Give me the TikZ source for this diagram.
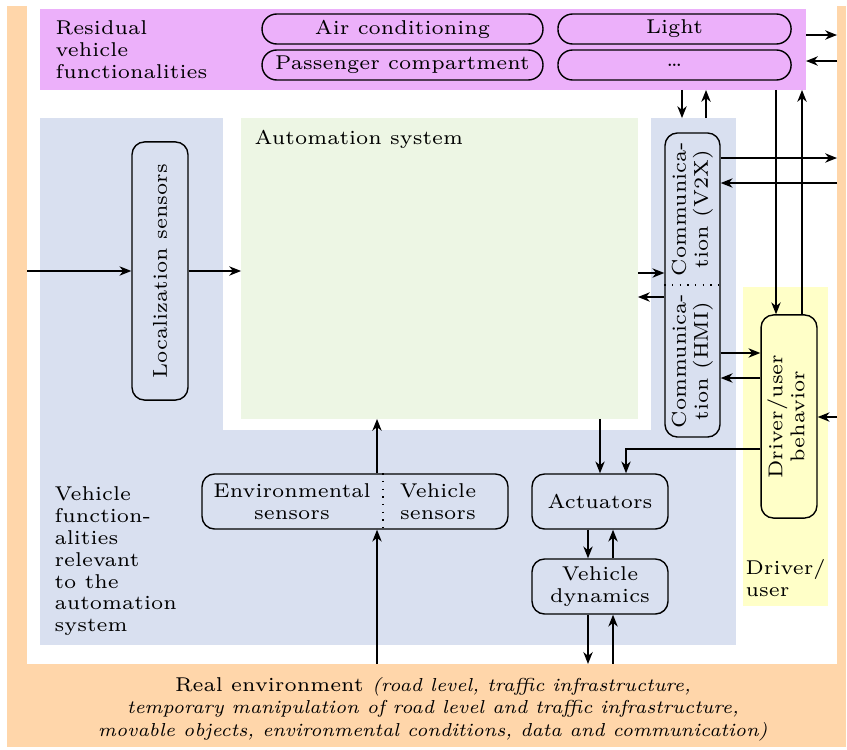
\documentclass[11pt,tikz,border=0pt]{standalone}
\usetikzlibrary{arrows.meta}

\definecolor{envcol}{RGB}{255,214,170}
\definecolor{rescol}{RGB}{236,176,250}
\definecolor{vehcol}{RGB}{217,224,240}
\definecolor{autcol}{RGB}{237,246,228}
\definecolor{drvcol}{RGB}{255,255,200}

\newcommand{\envit}[1]{{\fontsize{6}{7.2}\selectfont\itshape #1}}

\tikzset{
  area/.style={inner sep=0pt, outer sep=0pt},
  blk/.style={draw, line width=0.45pt, rounded corners=4pt, inner sep=0pt, align=center},
  pill/.style={blk, rounded corners=4.7pt, minimum height=9.6pt},
  lbl/.style={anchor=north west, inner sep=0pt, align=left},
  arr/.style={line width=0.45pt, -{Stealth[length=3.8pt,width=3pt,inset=1.2pt]}},
  sep/.style={line width=0.45pt, dotted},
}

\begin{document}
\begin{tikzpicture}[x=0.32pt,y=0.32pt,yscale=-1,font=\fontsize{6.4}{7}\selectfont]
\useasboundingbox (0,0) rectangle (847,749);

% real environment (frame)
\fill[envcol] (7,6) rectangle (846,747);
\fill[white] (27,6) rectangle (837,664);
\coordinate (envL) at (27,0);
\coordinate (envR) at (837,0);
\node[area, minimum width=259.2pt, minimum height=26.6pt] (env) at (432,705.5) {};
\node[align=center, font=\fontsize{6.4}{7.2}\selectfont] (envtxt) at (433,709)
  {Real environment \envit{(road level, traffic infrastructure,}\\
   \envit{temporary manipulation of road level and traffic infrastructure,}\\
   \envit{movable objects, environmental conditions, data and communication)}};

% background areas
\node[area, fill=rescol, minimum width=245.1pt, minimum height=25.9pt] (res) at (423,49.5) {};
\node[area, fill=vehcol, minimum width=222.7pt, minimum height=168.6pt] (veh) at (388,381.5) {};
\fill[white] (223,118) rectangle (651,430);
\node[area, fill=autcol, minimum width=127pt, minimum height=96.3pt] (aut) at (439.5,268.5) {};
\node[area, fill=drvcol, minimum width=27.2pt, minimum height=102.1pt] (drv) at (785.5,446.5) {};

% area labels
\node[lbl] (reslbl) at (55,20) {Residual\\vehicle\\functionalities};
\node[lbl] (autlbl) at (254,130) {Automation system};
\node[lbl] (vehlbl) at (54,486) {Vehicle\\function-\\alities\\relevant\\to the\\automation\\system};
\node[lbl] (drvlbl) at (745,559) {Driver/\\user};

% residual functionalities
\node[pill, minimum width=89.9pt] (air) at (402.5,29) {Air conditioning};
\node[pill, minimum width=89.9pt] (pass) at (402.5,65) {Passenger compartment};
\node[pill, minimum width=74.6pt] (light) at (674.5,29) {Light};
\node[pill, minimum width=74.6pt] (more) at (674.5,65) {\dots};

% blocks
\node[blk, minimum width=17.9pt, minimum height=82.6pt] (loc) at (160,271)
  {\rotatebox{90}{Localization sensors}};
\node[blk, minimum width=17.6pt, minimum height=97.3pt] (comm) at (692.5,285) {};
\node (v2x) at (692.5,209) {\rotatebox{90}{\begin{tabular}{@{}c@{}}Communica-\\tion (V2X)\end{tabular}}};
\node (hmi) at (692.5,361) {\rotatebox{90}{\begin{tabular}{@{}c@{}}Communica-\\tion (HMI)\end{tabular}}};
\draw[sep] (comm.west |- 0,285) -- (comm.east |- 0,285);

\node[blk, minimum width=17.9pt, minimum height=65pt] (drvb) at (789,416.5)
  {\rotatebox{90}{\begin{tabular}{@{}c@{}}Driver/user\\behavior\end{tabular}}};

\node[blk, minimum width=97.9pt, minimum height=17.6pt] (sens) at (355,501.5) {};
\node[align=center] (envsens) at (292,501.5) {Environmental\\sensors};
\node[align=center] (vehsens) at (438,501.5) {Vehicle\\sensors};
\draw[sep] (sens.north -| 383,0) -- (sens.south -| 383,0);

\node[blk, minimum width=43.5pt, minimum height=17.6pt] (act) at (600,501.5) {Actuators};
\node[blk, minimum width=43.5pt, minimum height=17.6pt] (dyn) at (600,586.5) {Vehicle\\dynamics};

% connectors
\draw[arr] (envL |- loc) -- (loc.west);
\draw[arr] (loc.east) -- (loc.east -| aut.west);
\draw[arr] (aut.east |- 0,273) -- (comm.west |- 0,273);
\draw[arr] (comm.west |- 0,297) -- (aut.east |- 0,297);

\draw[arr] (res.east |- 0,35) -- (envR |- 0,35);
\draw[arr] (envR |- 0,61) -- (res.east |- 0,61);
\draw[arr] (res.south -| 682,0) -- (veh.north -| 682,0);
\draw[arr] (veh.north -| 706,0) -- (res.south -| 706,0);
\draw[arr] (res.south -| 776,0) -- (drvb.north -| 776,0);
\draw[arr] (drvb.north -| 802,0) -- (res.south -| 802,0);

\draw[arr] (comm.east |- 0,158) -- (envR |- 0,158);
\draw[arr] (envR |- 0,183) -- (comm.east |- 0,183);
\draw[arr] (comm.east |- 0,353) -- (drvb.west |- 0,353);
\draw[arr] (drvb.west |- 0,378) -- (comm.east |- 0,378);
\draw[arr] (envR |- 0,417) -- (drvb.east |- 0,417);
\draw[arr] (drvb.west |- 0,449) -| (act.north -| 626,0);

\draw[arr] (aut.south -| act.north) -- (act.north);
\draw[arr] (act.south -| 588,0) -- (dyn.north -| 588,0);
\draw[arr] (dyn.north -| 613,0) -- (act.south -| 613,0);
\draw[arr] (dyn.south -| 588,0) -- (env.north -| 588,0);
\draw[arr] (env.north -| 613,0) -- (dyn.south -| 613,0);

\draw[arr] (sens.north -| 377,0) -- (aut.south -| 377,0);
\draw[arr] (env.north -| 377,0) -- (sens.south -| 377,0);

\end{tikzpicture}
\end{document}
